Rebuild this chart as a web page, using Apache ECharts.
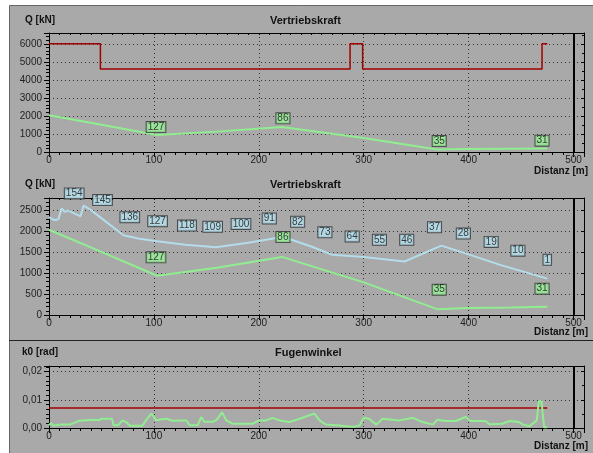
<!DOCTYPE html>
<html>
<head>
<meta charset="utf-8">
<script src="https://cdn.jsdelivr.net/npm/echarts@6/dist/echarts.min.js"></script>
<style>
  html, body { margin: 0; padding: 0; background: #fff; }
  #chart { width: 593px; height: 453px; }
</style>
</head>
<body>
<div id="chart"></div>
<script>
// Vertriebskraft (gruen) - oben und Mitte gleich
var kraftDist = [0, 50, 103, 160, 222, 300, 370, 400, 440, 475];
var kraftWert = [2040, 1510, 940, 1130, 1390, 780, 140, 165, 180, 200];

// Grenzwert (rot, Stufen)
var grenzDist = [0, 49, 287, 299, 470, 475];
var grenzWert = [6000, 4600, 6000, 4600, 6000, 6000];

// zweite Kurve (hellblau) im mittleren Diagramm
var blauDist = [0, 5, 9, 12, 15, 18, 24, 30, 33, 40, 71, 85, 103, 130, 159, 190, 221, 229, 250, 270, 300, 339, 374, 400, 430, 475];
var blauWert = [2340, 2270, 2290, 2550, 2470, 2500, 2430, 2360, 2620, 2510, 1910, 1830, 1765, 1680, 1620, 1730, 1860, 1820, 1640, 1440, 1390, 1280, 1660, 1450, 1200, 870];

// Ringnummern (blaue Kaestchen)
var ringNr = [154, 145, 136, 127, 118, 109, 100, 91, 82, 73, 64, 55, 46, 37, 28, 19, 10, 1];
var ringDist = [24, 51, 77, 103.5, 131.5, 156, 183, 210, 237, 263, 289, 315, 341, 367.5, 395, 421.5, 447, 475];
var ringHoehe = [2910, 2750, 2340, 2245, 2140, 2110, 2180, 2310, 2230, 1980, 1880, 1800, 1800, 2100, 1950, 1750, 1540, 1320];

// Ringnummern (gruene Kaestchen)
var gruenNr = [127, 86, 35, 31];
var gruenDist = [102, 223, 372, 470];
var gruenHoehe = [1380, 1865, 605, 630];

// Fugenwinkel
var winkelDist = [0, 2, 4, 10, 20, 29, 40, 48, 50, 60, 61.6, 66, 70, 74, 77, 89, 93, 97.5, 100, 102, 106, 112, 118, 125, 131, 134, 142, 145, 148, 156, 160, 165, 169, 175, 194, 200, 207, 213, 220, 229, 239, 248, 253, 258, 264, 277, 290, 296, 300, 305, 312, 318, 334, 347, 356, 366, 370, 378, 388, 397, 402, 416, 420, 432, 439, 448, 452, 458, 465, 467, 469.5, 470.5, 472, 475];
var winkelWert = [0.0010, 0.0018, 0.0008, 0.0012, 0.0012, 0.0026, 0.0028, 0.0028, 0.0033, 0.0033, 0.0010, 0.0010, 0.0027, 0.0020, 0.0008, 0.0008, 0.0030, 0.0051, 0.0040, 0.0027, 0.0030, 0.0033, 0.0026, 0.0027, 0.0027, 0.0010, 0.0010, 0.0039, 0.0022, 0.0022, 0.0030, 0.0056, 0.0027, 0.0015, 0.0015, 0.0027, 0.0027, 0.0036, 0.0027, 0.0021, 0.0033, 0.0045, 0.0051, 0.0027, 0.0012, 0.0009, 0.0004, 0.0009, 0.0036, 0.0033, 0.0012, 0.0033, 0.0027, 0.0036, 0.0021, 0.0012, 0.0029, 0.0025, 0.0025, 0.0039, 0.0025, 0.0025, 0.0013, 0.0015, 0.0025, 0.0021, 0.0012, 0.0006, 0.0027, 0.0095, 0.0095, 0.0056, 0.0003, 0.0003];
var winkelGrenzDist = [0, 475];
var winkelGrenzWert = [0.0071, 0.0071];

var font = 'Liberation Sans';
var schwarz = '#000';

function paare(xs, ys) {
  return xs.map(function (x, i) { return [x, ys[i]]; });
}
function kaestchen(xs, ys, nr) {
  return xs.map(function (x, i) { return [x, ys[i], nr[i]]; });
}

var grids = [
  { left: 49, top: 33, width: 535, height: 119 },
  { left: 49, top: 198, width: 535, height: 117 },
  { left: 49, top: 366, width: 535, height: 62 }
];

var xAxes = [];
var yAxes = [];
function tick(len, innen) {
  return { show: true, inside: !!innen, length: len, lineStyle: { color: schwarz, width: 1 } };
}
// je Diagramm: unten (Beschriftung), oben, links (Beschriftung), rechts
function achsen(g, yMax, yStep, yMinor, yRechts, fmt) {
  var xBasis = { gridIndex: g, type: 'value', min: 0, max: 510, interval: 100 };
  var linie = { show: true, onZero: false, lineStyle: { color: schwarz } };
  xAxes.push(Object.assign({}, xBasis, {
    position: 'bottom', axisLine: linie,
    axisTick: tick(5),
    minorTick: Object.assign(tick(3), { splitNumber: 10 }),
    axisLabel: { showMaxLabel: false, color: '#222', fontSize: 10, fontFamily: font, margin: 3,
      formatter: function (v) { return String(v); } },
    splitLine: { show: true, lineStyle: { color: '#333', type: [1, 3] } }
  }));
  xAxes.push(Object.assign({}, xBasis, {
    position: 'top', axisLine: linie,
    axisTick: tick(2, true),
    minorTick: Object.assign(tick(2, true), { splitNumber: 10 }),
    axisLabel: { show: false },
    splitLine: { show: false }
  }));
  var yBasis = { gridIndex: g, type: 'value', min: 0, max: yMax, interval: yStep };
  yAxes.push(Object.assign({}, yBasis, {
    position: 'left', axisLine: linie,
    axisTick: tick(5),
    minorTick: Object.assign(tick(3), { splitNumber: yMinor }),
    axisLabel: { showMaxLabel: false, color: '#222', fontSize: 10, fontFamily: font, margin: 7,
      formatter: fmt || function (v) { return String(v); } },
    splitLine: { show: true, lineStyle: { color: '#333', type: [1, 3] } }
  }));
  yAxes.push(Object.assign({}, yBasis, {
    position: 'right', axisLine: linie,
    axisTick: tick(3, true),
    minorTick: Object.assign(tick(2, true), { splitNumber: yRechts }),
    axisLabel: { show: false },
    splitLine: { show: false }
  }));
}
achsen(0, 6600, 1000, 5, 2, null);
achsen(1, 2800, 500, 5, 1, null);
achsen(2, 0.022, 0.01, 6, 2, function (v) { return v.toFixed(2).replace('.', ','); });

var endLinie = {
  silent: true,
  symbol: 'none',
  label: { show: false },
  lineStyle: { color: schwarz, width: 2, type: 'solid' },
  data: [{ xAxis: 500 }]
};

function kurve(g, daten, farbe, breite, extra) {
  return Object.assign({
    type: 'line', xAxisIndex: g * 2, yAxisIndex: g * 2,
    data: daten, showSymbol: false, symbol: 'none',
    lineStyle: { color: farbe, width: breite }, z: 3
  }, extra || {});
}
function boxen(g, daten, bg) {
  return {
    type: 'scatter', xAxisIndex: g * 2, yAxisIndex: g * 2,
    data: daten, symbolSize: 1, itemStyle: { color: 'rgba(0,0,0,0)' }, clip: false, z: 5,
    label: {
      show: true, position: 'inside',
      formatter: function (p) { return p.value[2]; },
      color: '#111', fontSize: 10, fontFamily: font, lineHeight: 10,
      backgroundColor: bg, borderColor: '#333', borderWidth: 1,
      padding: [0, 1, 0, 1]
    }
  };
}

var gruen = '#90ee90';
var blau = '#b4dcea';
var rot = '#a00000';

var chart = echarts.init(document.getElementById('chart'));
chart.setOption({
  animation: false,
  backgroundColor: '#fff',
  grid: grids,
  xAxis: xAxes,
  yAxis: yAxes,
  graphic: [
    { type: 'rect', z: -10, shape: { x: 9.5, y: 5.5, width: 600, height: 460 },
      style: { fill: '#a9a9a9', stroke: '#666', lineWidth: 1 } },
    { type: 'line', z: -9, shape: { x1: 9, y1: 340.5, x2: 593, y2: 340.5 },
      style: { stroke: '#222', lineWidth: 1 } },
    { type: 'text', left: 25, top: 15, style: { text: 'Q [kN]', font: 'bold 10px ' + font, fill: '#111' } },
    { type: 'text', left: 270, top: 15, style: { text: 'Vertriebskraft', font: 'bold 11px ' + font, fill: '#111' } },
    { type: 'text', right: 5, top: 166, style: { text: 'Distanz [m]', font: 'bold 10px ' + font, fill: '#111' } },
    { type: 'text', left: 25, top: 179, style: { text: 'Q [kN]', font: 'bold 10px ' + font, fill: '#111' } },
    { type: 'text', left: 270, top: 179, style: { text: 'Vertriebskraft', font: 'bold 11px ' + font, fill: '#111' } },
    { type: 'text', right: 5, top: 327, style: { text: 'Distanz [m]', font: 'bold 10px ' + font, fill: '#111' } },
    { type: 'text', left: 22, top: 347, style: { text: 'k0 [rad]', font: 'bold 10px ' + font, fill: '#111' } },
    { type: 'text', left: 275, top: 347, style: { text: 'Fugenwinkel', font: 'bold 11px ' + font, fill: '#111' } },
    { type: 'text', right: 5, top: 441, style: { text: 'Distanz [m]', font: 'bold 10px ' + font, fill: '#111' } }
  ],
  series: [
    kurve(0, paare(grenzDist, grenzWert), rot, 1.5, { step: 'end' }),
    kurve(0, paare(kraftDist, kraftWert), gruen, 2, { markLine: endLinie }),
    boxen(0, kaestchen(gruenDist, gruenHoehe, gruenNr), '#98f098'),

    kurve(1, paare(blauDist, blauWert), blau, 2, { markLine: endLinie }),
    kurve(1, paare(kraftDist, kraftWert), gruen, 2),
    boxen(1, kaestchen(ringDist, ringHoehe, ringNr), '#b8e2f0'),
    boxen(1, kaestchen(gruenDist, gruenHoehe, gruenNr), '#98f098'),

    kurve(2, paare(winkelGrenzDist, winkelGrenzWert), rot, 1.5, { markLine: endLinie }),
    kurve(2, paare(winkelDist, winkelWert), gruen, 2)
  ]
});
</script>
</body>
</html>
